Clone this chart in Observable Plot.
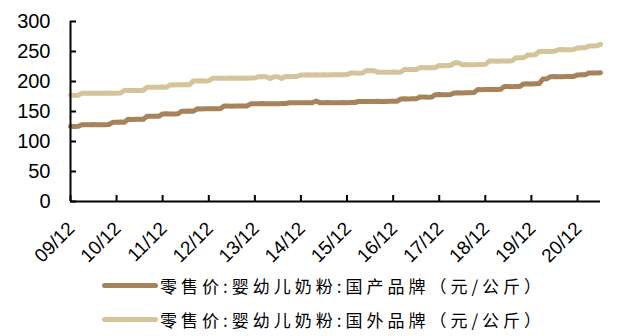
<!DOCTYPE html>
<html>
<head>
<meta charset="utf-8">
<script src="https://cdn.jsdelivr.net/npm/d3@7"></script>
<script src="https://cdn.jsdelivr.net/npm/@observablehq/plot@0.6"></script>
<style>
  body { margin: 0; background: #fff; }
  #chart svg { display: block; }
  .legend { font-family: "Noto Sans CJK SC", sans-serif; font-size: 17px; letter-spacing: 4px; color: #000; }
  .legend .row { height: 38px; display: flex; align-items: center; padding-left: 102px; }
  .legend .row:first-child { height: 30px; }
  .legend .swatch { width: 56px; height: 5px; border-radius: 2.5px; margin-right: 2px; flex: none; }
</style>
</head>
<body>
<div id="chart"></div>
<div class="legend" id="legend"></div>
<script>
// Monthly retail prices of infant formula, starting Dec 2009 (yuan per kg)
const firstMonth = "2009-12";

const domestic = [
  125, 124.8, 125.3,                                               // 2009-12 .. 2010-02
  128, 127.8, 128, 128.2, 128, 128.1, 128, 128.3,                  // 2010-03 .. 2010-10
  132, 132, 132.3, 132.1,                                          // 2010-11 .. 2011-02
  137, 136.8, 137, 137.2, 137,                                     // 2011-03 .. 2011-07
  142, 142.2, 141.9, 142,                                          // 2011-08 .. 2011-11
  146, 146.2, 145.9, 146, 146.3,                                   // 2011-12 .. 2012-04
  150.5, 150.4, 150.7, 150.6,                                      // 2012-05 .. 2012-08
  154.5, 154.3, 154.6, 154.5, 154.7, 154.4, 154.6,                 // 2012-09 .. 2013-03
  159, 159.2, 158.9, 159, 159.1, 159, 159.3,                       // 2013-04 .. 2013-10
  163, 162.8, 163, 163.2, 163, 163.1, 162.9, 163, 163.2, 163.4,    // 2013-11 .. 2014-08
  164.5, 164.4, 164.6, 164.5, 164.7, 164.5, 164.6, 167.5, 164.6,   // 2014-09 .. 2015-05
  164.5, 164.8, 164.6, 164.5, 164.7, 164.9, 164.6, 164.8, 165,     // 2015-06 .. 2016-02
  166.7, 166.5, 166.8, 166.7, 166.6, 166.9, 166.7, 166.8, 167, 166.9, 167.1, // 2016-03 .. 2017-01
  171, 171.2, 170.9, 171.1, 171.3,                                 // 2017-02 .. 2017-06
  174, 174.2, 173.9, 174.1,                                        // 2017-07 .. 2017-10
  178, 178.2, 177.9, 178.1, 178.3,                                 // 2017-11 .. 2018-03
  181, 181.2, 180.9, 181.1, 181.3, 181.5,                          // 2018-04 .. 2018-09
  186.5, 186.4, 186.7, 186.5, 186.8, 186.6, 186.9,                 // 2018-10 .. 2019-04
  191.5, 191.7, 191.4, 191.6, 191.8,                               // 2019-05 .. 2019-09
  196, 196.2, 195.9, 196.3, 196.5,                                 // 2019-10 .. 2020-02
  204, 204.4,                                                      // 2020-03 .. 2020-04
  208, 208.2, 207.9, 208.1, 208.3, 208.2, 208.5,                   // 2020-05 .. 2020-11
  211, 211.2, 211.1,                                               // 2020-12 .. 2021-02
  214, 214.1, 214.3, 214.5                                         // 2021-03 .. 2021-06
];

const imported = [
  177, 176.8, 177.2,                                               // 2009-12 .. 2010-02
  180.5, 180.4, 180.6, 180.5, 180.3, 180.6, 180.5, 180.7, 180.5, 180.6, 180.8, // 2010-03 .. 2011-01
  185, 185.2, 184.9, 185.1, 185, 185.3,                            // 2011-02 .. 2011-07
  190.5, 190.3, 190.6, 190.5, 190.7, 190.6,                        // 2011-08 .. 2012-01
  194.5, 194.3, 194.6, 194.5, 194.8, 194.6,                        // 2012-02 .. 2012-07
  201, 200.8, 201.1, 201, 201.2,                                   // 2012-08 .. 2012-12
  205.5, 205.3, 205.6, 205.5, 205.4, 205.7, 205.5, 205.6, 205.8, 205.5, 205.7, 205.9, // 2013-01 .. 2013-12
  208, 208.2, 208, 205, 208.1, 208, 205, 208.2, 208.1, 208.3, 208.4, // 2014-01 .. 2014-11
  211, 210.8, 211.1, 211, 211.2, 210.9, 211.1, 211, 211.3, 211.2, 211.4, 211.2, 211.5, // 2014-12 .. 2015-12
  214, 214.2, 213.9, 214.1,                                        // 2016-01 .. 2016-04
  218, 218.3, 218.1,                                               // 2016-05 .. 2016-07
  215.5, 215.3, 215.6, 215.5, 215.7, 215.6, 215.8,                 // 2016-08 .. 2017-02
  220, 220.2, 219.9, 220.1,                                        // 2017-03 .. 2017-06
  223, 223.2, 222.9, 223.1, 223.3,                                 // 2017-07 .. 2017-11
  226.5, 226.4, 226.7, 226.6,                                      // 2017-12 .. 2018-03
  231, 231.2,                                                      // 2018-04 .. 2018-05
  228, 228.2, 227.9, 228.1, 228.3, 228.2, 228.6,                   // 2018-06 .. 2018-12
  234, 234.2, 233.9, 234.1, 234.3, 234.2, 234.5,                   // 2019-01 .. 2019-07
  239.5, 239.7, 239.6,                                             // 2019-08 .. 2019-10
  244, 244.3, 244.5,                                               // 2019-11 .. 2020-01
  250, 250.2, 249.9, 250.1, 250.4,                                 // 2020-02 .. 2020-06
  253, 253.2, 252.9, 253.1, 253.4,                                 // 2020-07 .. 2020-11
  256, 256.2, 256.4,                                               // 2020-12 .. 2021-02
  259, 259.2, 259.5, 262                                           // 2021-03 .. 2021-06
];

const seriesNames = [
  "零售价:婴幼儿奶粉:国产品牌（元/公斤）",
  "零售价:婴幼儿奶粉:国外品牌（元/公斤）"
];
const seriesColors = ["#A7835B", "#D5C499"];

const yTicks = [0, 50, 100, 150, 200, 250, 300];
const xTickLabels = ["09/12", "10/12", "11/12", "12/12", "13/12", "14/12",
                     "15/12", "16/12", "17/12", "18/12", "19/12", "20/12"];

// Build dated rows for each series
const start = d3.utcParse("%Y-%m")(firstMonth);
const toRows = (values, series) =>
  values.map((v, i) => ({date: d3.utcMonth.offset(start, i), value: v, series}));
const domesticRows = toRows(domestic, seriesNames[0]);
const importedRows = toRows(imported, seriesNames[1]);
const lastMonth = domesticRows[domesticRows.length - 1].date;

// December of each year carries a tick and label
const tickDates = xTickLabels.map((_, i) => d3.utcYear.offset(start, i));
const labelOf = new Map(tickDates.map((d, i) => [+d, xTickLabels[i]]));

const width = 627, height = 270;
const marginLeft = 70, marginRight = 27, marginTop = 21, marginBottom = 69;
const frameW = width - marginLeft - marginRight;
const frameH = height - marginTop - marginBottom;
const tickLen = 6;

const chart = Plot.plot({
  width, height, marginLeft, marginRight, marginTop, marginBottom,
  style: {background: "#fff", fontFamily: "'Liberation Sans', Arial, sans-serif", color: "#000"},
  x: {type: "utc", domain: [start, lastMonth]},
  y: {domain: [0, 300]},
  marks: [
    Plot.line(importedRows, {x: "date", y: "value", stroke: seriesColors[1], strokeWidth: 5}),
    Plot.line(domesticRows, {x: "date", y: "value", stroke: seriesColors[0], strokeWidth: 5}),
    // axis lines
    Plot.ruleX([start], {stroke: "#000", strokeWidth: 2}),
    Plot.ruleY([0], {stroke: "#000", strokeWidth: 2}),
    // inward tick marks
    Plot.tickY(yTicks, {y: d => d, stroke: "#000", strokeWidth: 2, insetRight: frameW - tickLen}),
    Plot.tickX(tickDates, {x: d => d, stroke: "#000", strokeWidth: 2, insetTop: frameH - tickLen}),
    // tick labels
    Plot.axisY(yTicks, {tickSize: 0, tickPadding: 20, fontSize: 20, label: null}),
    Plot.axisX(tickDates, {tickSize: 0, tickPadding: 24, dx: 1, tickRotate: -45, fontSize: 19,
                          tickFormat: d => labelOf.get(+d), label: null})
  ]
});
document.getElementById("chart").appendChild(chart);

// Legend below the plot
const legend = document.getElementById("legend");
seriesNames.forEach((name, i) => {
  const row = document.createElement("div");
  row.className = "row";
  const sw = document.createElement("span");
  sw.className = "swatch";
  sw.style.background = seriesColors[i];
  const label = document.createElement("span");
  label.textContent = name;
  row.appendChild(sw);
  row.appendChild(label);
  legend.appendChild(row);
});
</script>
</body>
</html>
